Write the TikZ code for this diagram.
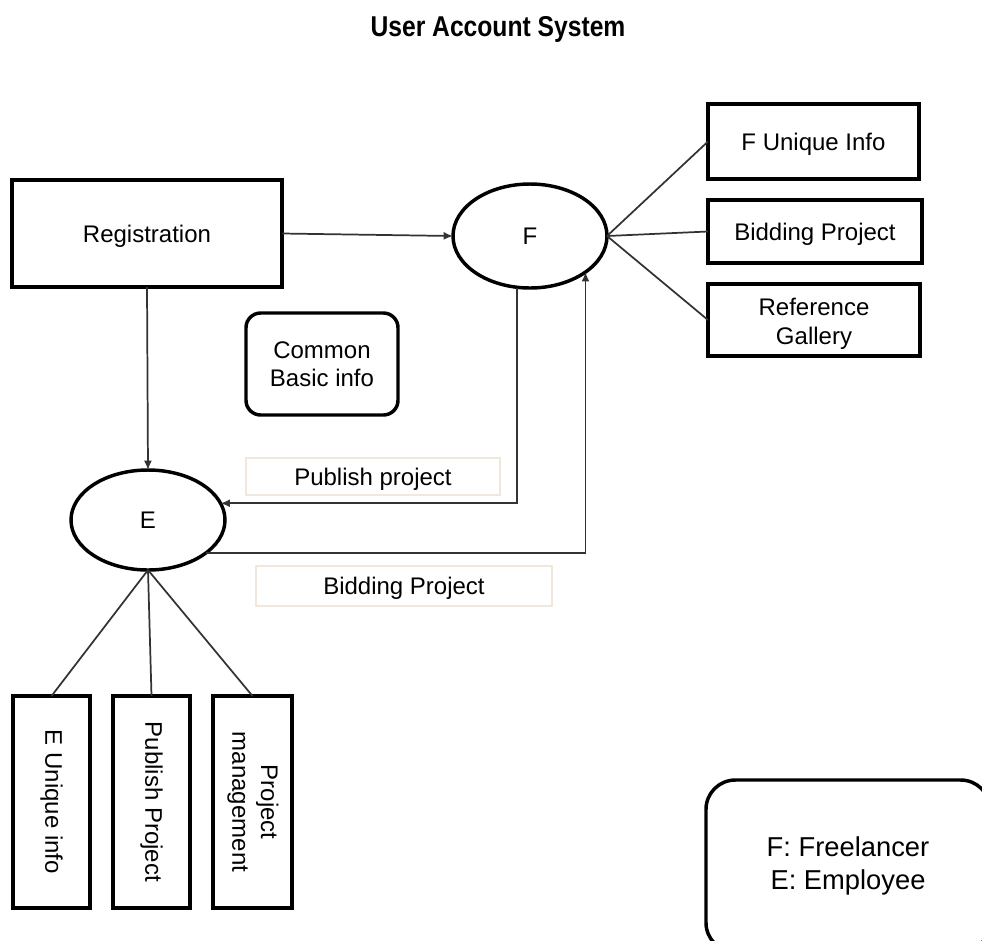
\documentclass[tikz,border=0pt]{standalone}
\usepackage{fontspec}
\usepackage{graphicx}
\setmainfont{Liberation Sans}
\usetikzlibrary{arrows.meta,shapes.geometric,calc}
\definecolor{labelborder}{HTML}{F0E8DC}
\definecolor{linegray}{HTML}{333333}
\begin{document}
\begin{tikzpicture}[x=0.75pt,y=-0.75pt,
  every node/.style={font=\fontsize{18}{21.5}\selectfont, align=center, inner sep=0pt, outer sep=0pt},
  box/.style={draw=black, line width=2.6pt, rectangle},
  roundbox/.style={draw=black, line width=2.6pt, rectangle, rounded corners=#1},
  oval/.style={draw=black, line width=2.6pt, ellipse},
  lbl/.style={draw=labelborder, line width=1.6pt, rectangle},
  conn/.style={draw=linegray, line width=1.3pt},
  arr/.style={conn, -{Latex[length=7pt,width=6pt]}}]
\useasboundingbox (0,0) rectangle (982,940);
\clip (0,0) rectangle (982,940);

\node[font=\fontsize{21.5}{24}\selectfont\bfseries] (title) at (498,29) {\scalebox{0.86}[1]{User Account System}};

\node[box, minimum width=202.5pt, minimum height=80.25pt, text depth=0pt] (reg) at (147,233.5) {Registration};
\node[oval, minimum width=115.5pt, minimum height=78pt] (F) at (530,236) {F};
\node[box, minimum width=158.25pt, minimum height=56.25pt, text depth=0pt] (fu) at (813.5,141.5) {F Unique Info};
\node[box, minimum width=160.5pt, minimum height=47.25pt, text depth=0pt] (bp) at (815,231.5) {Bidding Project};
\node[box, minimum width=159pt, minimum height=54pt] (rg) at (814,320) {\raisebox{-3pt}[\height][\depth]{\begin{tabular}{@{}c@{}}Reference\\Gallery\end{tabular}}};
\node[roundbox=11pt, minimum width=114pt, minimum height=76.5pt] (cb) at (322,364) {\raisebox{-2pt}[\height][\depth]{\begin{tabular}{@{}c@{}}Common\\Basic info\end{tabular}}};
\node[oval, minimum width=115.5pt, minimum height=75pt] (E) at (148,520) {E};
\node[lbl, minimum width=190.5pt, minimum height=27.75pt, text depth=0pt] (pl) at (373,476.5) {Publish project};
\node[lbl, minimum width=222pt, minimum height=30pt, text depth=0pt] (bl) at (404,586) {Bidding Project};

\node[box, minimum width=57.75pt, minimum height=159pt] (eu) at (51.5,802) {\rotatebox{-90}{E Unique info}};
\node[box, minimum width=57.75pt, minimum height=159pt] (pp) at (151.5,802) {\rotatebox{-90}{Publish Project}};
\node[box, minimum width=59.25pt, minimum height=159pt] (pm) at (252.5,802) {\rotatebox{-90}{\begin{tabular}{@{}c@{}}Project\\management\end{tabular}}};

\node[roundbox=22pt, minimum width=213pt, minimum height=129pt, font=\fontsize{20.5}{25}\selectfont] (legend) at (848,866) {F: Freelancer\\E: Employee};

\coordinate (pubx) at (517,0);

\draw[arr] (reg.east) -- (F.west);
\draw[arr] (reg.south) -- (E.north);
\draw[conn] (F.east) -- (fu.west);
\draw[conn] (F.east) -- (bp.west);
\draw[conn] (F.east) -- (rg.west);
\draw[arr] (F.south -| pubx) |- (E.13);
\draw[arr] (E.-30) -| (F.-33);
\draw[conn] (E.south) -- (eu.north);
\draw[conn] (E.south) -- (pp.north);
\draw[conn] (E.south) -- (pm.north);
\end{tikzpicture}
\end{document}
